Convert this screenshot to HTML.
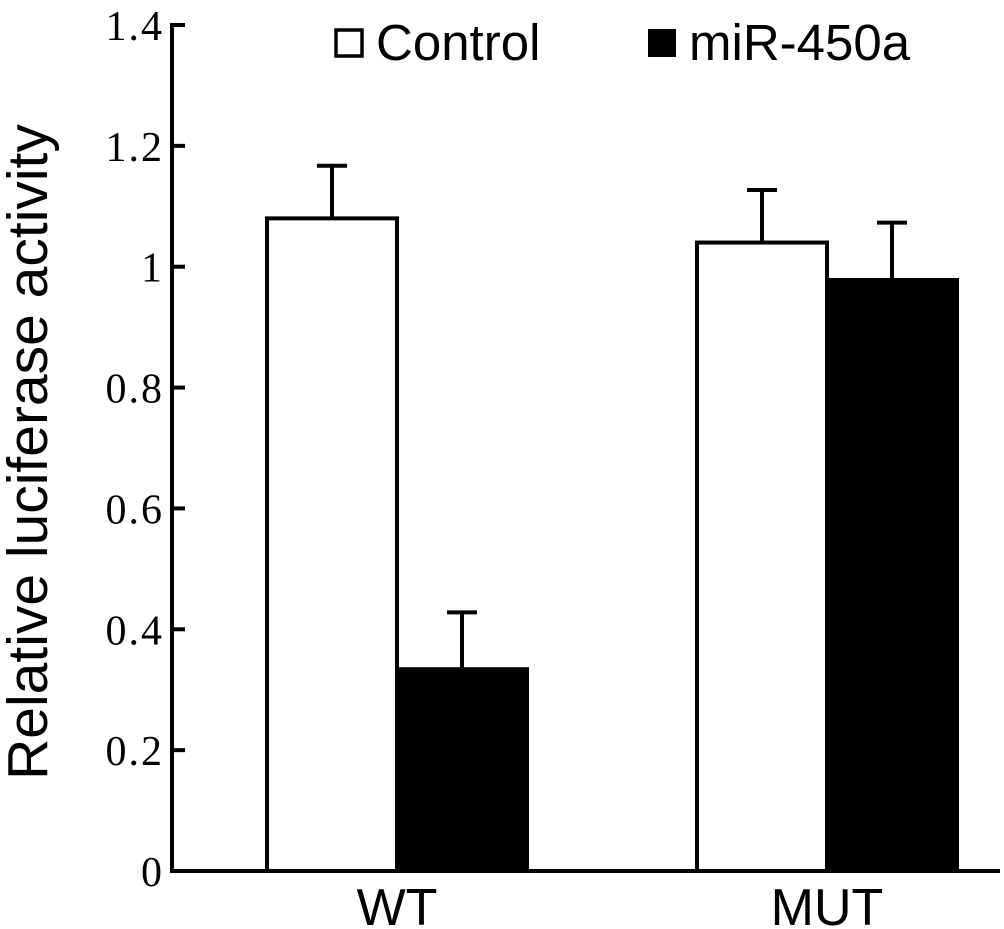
<!DOCTYPE html>
<html><head><meta charset="utf-8"><style>
html,body{margin:0;padding:0;background:#fff;}
svg{display:block;}
</style></head><body>
<svg id="chart" width="1004" height="929" xmlns="http://www.w3.org/2000/svg"></svg>
<script>
const groups = ["WT", "MUT"];
const controlValues = [1.08, 1.04];
const controlErrors = [0.087, 0.087];
const mirValues = [0.334, 0.978];
const mirErrors = [0.094, 0.095];
const yTicks = [0, 0.2, 0.4, 0.6, 0.8, 1, 1.2, 1.4];
const yTickLabels = ["0", "0.2", "0.4", "0.6", "0.8", "1", "1.2", "1.4"];

const NS = "http://www.w3.org/2000/svg";
const svg = document.getElementById("chart");
const x0 = 172, y0 = 871, yTop = 25, yMax = 1.4;
const yS = v => y0 - (v / yMax) * (y0 - yTop);
const groupCenters = [397, 827];
const xG = i => groupCenters[i];
const barW = 130;
function mk(tag, attrs, name, text) {
  const e = document.createElementNS(NS, tag);
  for (const k in attrs) e.setAttribute(k, attrs[k]);
  
  
  if (text !== undefined) e.textContent = text;
  svg.appendChild(e);
  return e;
}
function drawBar(i, v, err, fill, name) {
  const left = fill === "#fff" ? xG(i) - barW : xG(i);
  const cx = left + barW / 2;
  mk("line", {x1: cx, x2: cx, y1: yS(v), y2: yS(v + err), stroke: "#000", "stroke-width": 4}, name + "-error");
  mk("line", {x1: cx - 15, x2: cx + 15, y1: yS(v + err), y2: yS(v + err), stroke: "#000", "stroke-width": 4}, name + "-error-cap");
  mk("rect", {x: left, y: yS(v), width: barW, height: y0 - yS(v), fill: fill, stroke: "#000", "stroke-width": 4}, name);
}
groups.forEach((g, i) => {
  drawBar(i, controlValues[i], controlErrors[i], "#fff", "bar-control-" + g.toLowerCase());
  drawBar(i, mirValues[i], mirErrors[i], "#000", "bar-mir450a-" + g.toLowerCase());
  mk("text", {x: xG(i), y: 925, "text-anchor": "middle", "font-family": "Liberation Sans, sans-serif", "font-size": 52}, "x-label-" + g.toLowerCase(), g);
});
mk("line", {x1: x0, x2: x0, y1: yTop - 2, y2: y0 + 2, stroke: "#000", "stroke-width": 4}, "y-axis");
mk("line", {x1: x0 - 2, x2: 1000, y1: y0, y2: y0, stroke: "#000", "stroke-width": 4}, "x-axis");
yTicks.forEach((t, i) => {
  if (t > 0) mk("line", {x1: x0, x2: x0 + 13, y1: yS(t), y2: yS(t), stroke: "#000", "stroke-width": 4}, "y-tick");
  mk("text", {x: 164, y: yS(t) + 15, "text-anchor": "end", "font-family": "Liberation Serif, serif", "font-size": 42, "letter-spacing": 2}, "y-tick-label", yTickLabels[i]);
});
mk("text", {x: 47, y: 452, "text-anchor": "middle", transform: "rotate(-90 47 452)", "font-family": "Liberation Sans, sans-serif", "font-size": 57}, "y-axis-title", "Relative luciferase activity");
mk("rect", {x: 336, y: 30, width: 26, height: 26, fill: "#fff", stroke: "#000", "stroke-width": 3.5}, "legend-control-swatch");
mk("text", {x: 376, y: 60, "font-family": "Liberation Sans, sans-serif", "font-size": 51}, "legend-control-label", "Control");
mk("rect", {x: 648, y: 29, width: 28, height: 28, fill: "#000"}, "legend-mir450a-swatch");
mk("text", {x: 689, y: 60, "font-family": "Liberation Sans, sans-serif", "font-size": 51}, "legend-mir450a-label", "miR-450a");
</script>
</body></html>
